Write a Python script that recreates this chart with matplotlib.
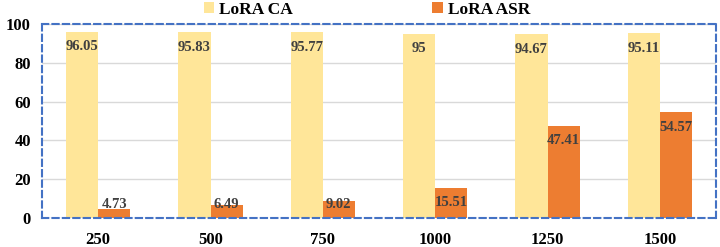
import numpy as np
import matplotlib.pyplot as plt

# datos
pasos = ['250', '500', '750', '1000', '1250', '1500']
lora_ca = [96.05, 95.83, 95.77, 95, 94.67, 95.11]
lora_asr = [4.73, 6.49, 9.02, 15.51, 47.41, 54.57]
etiquetas_ca = ['96.05', '95.83', '95.77', '95', '94.67', '95.11']
etiquetas_asr = ['4.73', '6.49', '9.02', '15.51', '47.41', '54.57']

plt.rcParams['font.family'] = ['Liberation Serif', 'DejaVu Serif']
plt.rcParams['font.weight'] = 'bold'

fig = plt.figure(figsize=(7.2, 2.47), dpi=100)
ax = fig.add_axes([42/720, 1 - 218/247, (716 - 42)/720, (218 - 24)/247])

x = np.arange(len(pasos))
w = 0.285
ax.bar(x - w/2, lora_ca, w, color='#FFE699', label='LoRA CA', zorder=2)
ax.bar(x + w/2, lora_asr, w, color='#ED7D31', label='LoRA ASR', zorder=2)

# etiquetas dentro del extremo de la barra
for i in range(len(pasos)):
    ax.text(x[i] - w/2, lora_ca[i] - 7.7, etiquetas_ca[i], ha='center', va='center',
            fontsize=10.5, color='#404040', fontweight='bold', zorder=3)
    ax.text(x[i] + w/2, max(lora_asr[i] - 7.7, 6.8), etiquetas_asr[i], ha='center', va='center',
            fontsize=10.5, color='#404040', fontweight='bold', zorder=3)

ax.set_xlim(-0.5, len(pasos) - 0.5)
ax.set_ylim(0, 100)
ax.set_yticks([0, 20, 40, 60, 80, 100])
ax.set_xticks(x)
ax.set_xticklabels(pasos)
ax.tick_params(axis='both', length=0, labelsize=12)
ax.tick_params(axis='x', pad=10)
ax.tick_params(axis='y', pad=8)
for lab in ax.get_xticklabels() + ax.get_yticklabels():
    lab.set_fontweight('bold')

ax.grid(axis='y', color='#D9D9D9', linewidth=1, zorder=0)
for s in ax.spines.values():
    s.set_color('#4472C4')
    s.set_linestyle((0, (3, 2)))
    s.set_linewidth(1.5)

fig.legend(loc='center', bbox_to_anchor=(367/720, 1 - 10/247), ncol=2, frameon=False,
           fontsize=12.5, handlelength=0.6, handleheight=0.6, handletextpad=0.3,
           columnspacing=8.0, borderpad=0)

fig.savefig('out.png', dpi=100)
